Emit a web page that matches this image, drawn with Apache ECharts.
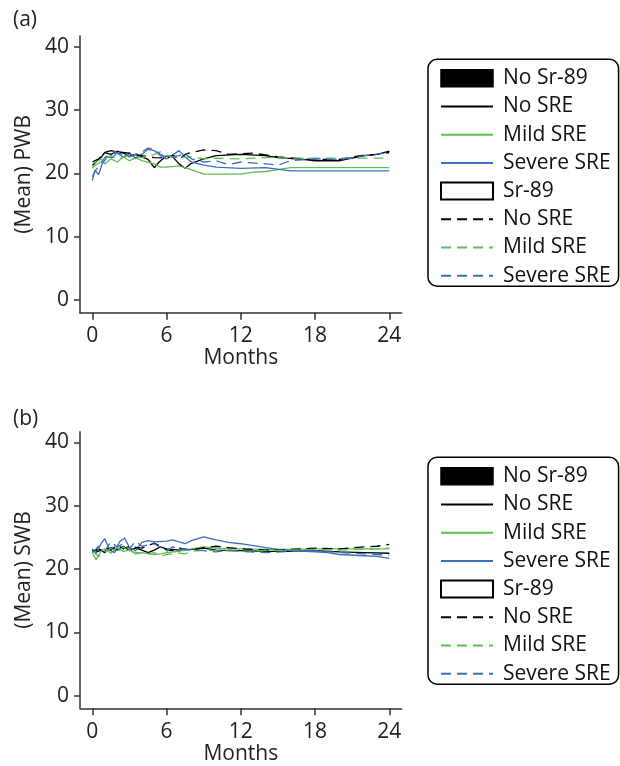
<!DOCTYPE html>
<html>
<head>
<meta charset="utf-8">
<script src="https://cdn.jsdelivr.net/npm/echarts@6/dist/echarts.min.js"></script>
<style>html,body{margin:0;padding:0;background:#fff}#c{width:620px;height:766px}</style>
</head>
<body>
<div id="c"></div>
<script>
// ---- tick labels ----
const monthTicks = [0, 6, 12, 18, 24];
const valueTicks = [0, 10, 20, 30, 40];

// ---- (a) PWB: [month, mean] ----
const pwbNoSr89NoSRE = [[0,21.3],[0.3,21.8],[0.7,22.5],[1,23.3],[1.5,23.0],[2,23.5],[2.5,23.2],[3,22.8],[3.5,23.0],[4,22.6],[4.5,22.2],[5,20.9],[5.4,21.8],[6,22.8],[6.5,22.6],[7,21.5],[7.5,20.8],[8,21.6],[9,22.3],[10,22.8],[12,23.0],[14,22.8],[15,22.5],[17,22.2],[18,22.0],[20,22.0],[21,22.4],[22,22.8],[23,23.0],[24,23.5]];
const pwbNoSr89Mild = [[0,20.8],[0.3,21.8],[0.7,22.3],[1,21.5],[1.5,22.3],[2,21.8],[2.5,22.6],[3,22.0],[3.5,22.5],[4,22.0],[5,21.5],[5.5,21.0],[6,21.0],[7,21.2],[8,20.6],[9,19.9],[11,19.9],[12,19.9],[13,20.2],[14,20.3],[15,20.6],[16,20.9],[18,20.9],[24,20.9]];
const pwbNoSr89Severe = [[0,18.9],[0.2,20.5],[0.5,19.8],[0.8,21.5],[1.2,22.6],[1.6,22.5],[2,23.2],[2.5,22.6],[3,23.2],[3.5,22.4],[4,23.0],[4.5,23.8],[5,23.6],[5.5,22.8],[6,22.3],[6.5,22.9],[7,23.6],[7.5,22.6],[8,21.8],[9,21.3],[10,21.0],[12,20.8],[14,20.9],[16,20.4],[18,20.4],[24,20.4]];
const pwbSr89NoSRE = [[0,21.8],[0.5,22.3],[1,23.3],[1.5,23.6],[2,23.4],[3,23.2],[4,22.8],[5,22.5],[6,22.4],[6.5,22.9],[7,22.2],[7.5,23.0],[8,23.3],[9,23.7],[10,23.6],[11,23.0],[12,23.1],[13,23.2],[15,22.6],[17,22.3],[18,22.2],[20,22.2],[21,22.6],[22,22.9],[23,23.0],[24,23.3]];
const pwbSr89Mild = [[0,21.0],[0.5,21.6],[1,22.3],[1.5,22.8],[2,22.3],[3,22.8],[4,22.5],[5,23.0],[5.5,23.4],[6,22.8],[7,22.5],[8,22.6],[9,22.3],[10,22.4],[12,22.3],[14,22.5],[16,22.4],[18,22.4],[24,22.4]];
const pwbSr89Severe = [[0,19.5],[0.3,20.6],[0.6,21.3],[1,22.5],[1.5,23.1],[2,23.3],[3,22.6],[4,23.4],[4.5,24.0],[5,23.8],[5.5,23.0],[6,22.5],[7,22.8],[7.5,23.1],[8,22.3],[9,21.8],[10,22.0],[11,21.4],[12,21.8],[14,21.5],[15,21.3],[16,22.0],[18,22.3],[20,22.2],[22,22.8],[24,23.3]];

// ---- (b) SWB: [month, mean] ----
const swbNoSr89NoSRE = [[0,22.8],[0.5,23.2],[1,22.6],[1.5,23.4],[2,23.0],[2.5,23.6],[3,22.9],[3.5,23.3],[4,23.0],[4.5,22.6],[5,23.0],[5.5,23.5],[6,23.2],[7,23.0],[8,23.1],[9,23.3],[10,23.0],[12,22.9],[14,22.8],[16,22.8],[18,22.9],[20,22.7],[22,22.6],[24,22.5]];
const swbNoSr89Mild = [[0,22.5],[0.3,21.5],[0.7,22.8],[1,23.2],[1.5,22.5],[2,23.4],[2.5,22.8],[3,23.0],[3.5,22.4],[4,22.6],[5,22.3],[5.5,22.4],[6,22.6],[7,22.8],[8,23.2],[9,23.5],[10,23.3],[12,23.2],[14,23.1],[16,23.1],[18,23.2],[20,23.2],[22,23.2],[24,23.2]];
const swbNoSr89Severe = [[0,23.2],[0.3,22.4],[0.7,24.0],[1,24.8],[1.4,23.0],[1.8,22.6],[2.2,24.3],[2.6,24.9],[3,23.4],[3.5,22.9],[4,24.2],[4.5,24.5],[5,24.3],[6,24.4],[6.5,24.6],[7,24.3],[7.5,24.0],[8,24.5],[9,25.1],[10,24.6],[11,24.2],[12,24.0],[13,23.7],[14,23.4],[15,23.1],[16,22.9],[18,22.7],[19,22.6],[20,22.3],[22,22.1],[23,22.0],[24,21.7]];
const swbSr89NoSRE = [[0,23.0],[0.5,22.8],[1,23.5],[1.5,23.0],[2,23.8],[2.5,23.2],[3,23.6],[4,23.3],[5,24.1],[5.5,23.6],[6,23.0],[6.5,22.9],[7,23.3],[8,23.0],[9,23.4],[10,23.6],[11,23.4],[12,23.2],[14,23.0],[16,23.1],[18,23.3],[20,23.2],[22,23.5],[23,23.6],[24,23.9]];
const swbSr89Mild = [[0,22.8],[0.5,22.0],[1,22.6],[1.5,23.3],[2,22.7],[2.5,23.5],[3,22.8],[4,22.5],[4.5,22.4],[5,22.6],[5.5,22.0],[6,22.3],[7,22.5],[7.5,22.4],[8,22.8],[9,23.0],[10,22.9],[12,22.8],[14,22.9],[16,23.0],[18,23.1],[20,23.0],[22,23.1],[24,23.3]];
const swbSr89Severe = [[0,22.6],[0.5,23.6],[1,22.8],[1.5,24.3],[2,23.5],[2.5,24.0],[3,23.2],[3.5,24.4],[4,23.6],[5,24.0],[5.5,23.4],[6,22.8],[6.5,23.5],[7,23.2],[8,23.0],[9,22.9],[10,22.7],[11,23.0],[12,22.8],[14,22.6],[16,22.8],[18,22.9],[20,22.6],[22,22.4],[24,22.2]];

const FONT = 'Open Sans';
const BLACK = '#000000', GREEN = '#5fbf52', BLUE = '#3a6fc0';
const DASH = [10, 6];
const axisColor = '#333';

function xAx(gi) {
  return {
    type: 'value', gridIndex: gi, min: -1, max: 25,
    name: 'Months', nameLocation: 'middle', nameGap: 35,
    nameTextStyle: { fontFamily: FONT, fontSize: 21, color: '#222' },
    axisLine: { show: true, onZero: false, lineStyle: { color: axisColor, width: 1.5 } },
    axisTick: { show: true, length: 7, customValues: monthTicks, lineStyle: { color: axisColor, width: 1.5 } },
    axisLabel: { customValues: monthTicks, margin: 13, fontFamily: FONT, fontSize: 21, color: '#222' },
    splitLine: { show: false }
  };
}
function yAx(gi, name) {
  return {
    type: 'value', gridIndex: gi, min: -2, max: 41.7,
    name: name, nameLocation: 'middle', nameGap: 37,
    nameTextStyle: { fontFamily: FONT, fontSize: 21, color: '#222' },
    axisLine: { show: true, onZero: false, lineStyle: { color: axisColor, width: 1.5 } },
    axisTick: { show: true, length: 6, customValues: valueTicks, lineStyle: { color: axisColor, width: 1.5 } },
    axisLabel: { customValues: valueTicks, margin: 11, fontFamily: FONT, fontSize: 21, color: '#222' },
    splitLine: { show: false }
  };
}
function line(name, data, color, dashed, gi) {
  return {
    type: 'line', name: name, data: data, xAxisIndex: gi, yAxisIndex: gi,
    symbol: 'none', showSymbol: false, silent: true, animation: false,
    itemStyle: { color: color },
    lineStyle: { color: color, width: 1.3, type: dashed ? DASH : 'solid' }
  };
}
function lineItem(name) {
  return { name: name, itemStyle: { opacity: 0 } };
}
function legendFor(top) {
  return {
    orient: 'vertical', left: 428, top: top,
    padding: [8.5, 8, 0, 12], itemGap: 7.2, itemWidth: 52, itemHeight: 17,
    borderColor: '#000', borderWidth: 1.5, borderRadius: 9,
    selectedMode: false,
    textStyle: { fontFamily: FONT, fontSize: 21, color: '#111', padding: [0, 0, 0, 5] },
    formatter: n => n.replace(/\u200b/g, ''),
    data: [
      { name: 'No Sr-89', icon: 'rect', itemStyle: { color: '#000', borderColor: '#000', borderWidth: 1.5, opacity: 1 } },
      lineItem('No SRE'), lineItem('Mild SRE'), lineItem('Severe SRE'),
      { name: 'Sr-89', icon: 'rect', itemStyle: { color: '#fff', borderColor: '#000', borderWidth: 2, opacity: 1 } },
      lineItem('No SRE\u200b'), lineItem('Mild SRE\u200b'), lineItem('Severe SRE\u200b')
    ]
  };
}

const chart = echarts.init(document.getElementById('c'), null, { renderer: 'canvas' });
chart.setOption({
  animation: false,
  backgroundColor: '#fff',
  title: [
    { text: '(a)', left: 13, top: 10, padding: 0, textStyle: { fontFamily: FONT, fontSize: 21, fontWeight: 'normal', color: '#222' } },
    { text: '(b)', left: 13, top: 409, padding: 0, textStyle: { fontFamily: FONT, fontSize: 21, fontWeight: 'normal', color: '#222' } }
  ],
  grid: [
    { left: 80, top: 36, width: 321.7, height: 276.7 },
    { left: 80, top: 431.7, width: 321.7, height: 276.6 }
  ],
  xAxis: [xAx(0), xAx(1)],
  yAxis: [yAx(0, '(Mean) PWB'), yAx(1, '(Mean) SWB')],
  legend: [legendFor(59.3), legendFor(457.3)],
  series: [
    { type: 'bar', name: 'No Sr-89', data: [], xAxisIndex: 0, yAxisIndex: 0, itemStyle: { color: '#000' } },
    line('No SRE', pwbNoSr89NoSRE, BLACK, false, 0),
    line('Mild SRE', pwbNoSr89Mild, GREEN, false, 0),
    line('Severe SRE', pwbNoSr89Severe, BLUE, false, 0),
    { type: 'bar', name: 'Sr-89', data: [], xAxisIndex: 0, yAxisIndex: 0, itemStyle: { color: '#fff', borderColor: '#000', borderWidth: 2 } },
    line('No SRE\u200b', pwbSr89NoSRE, BLACK, true, 0),
    line('Mild SRE\u200b', pwbSr89Mild, GREEN, true, 0),
    line('Severe SRE\u200b', pwbSr89Severe, BLUE, true, 0),
    line('No SRE', swbNoSr89NoSRE, BLACK, false, 1),
    line('Mild SRE', swbNoSr89Mild, GREEN, false, 1),
    line('Severe SRE', swbNoSr89Severe, BLUE, false, 1),
    line('No SRE\u200b', swbSr89NoSRE, BLACK, true, 1),
    line('Mild SRE\u200b', swbSr89Mild, GREEN, true, 1),
    line('Severe SRE\u200b', swbSr89Severe, BLUE, true, 1)
  ]
});
</script>
</body>
</html>
